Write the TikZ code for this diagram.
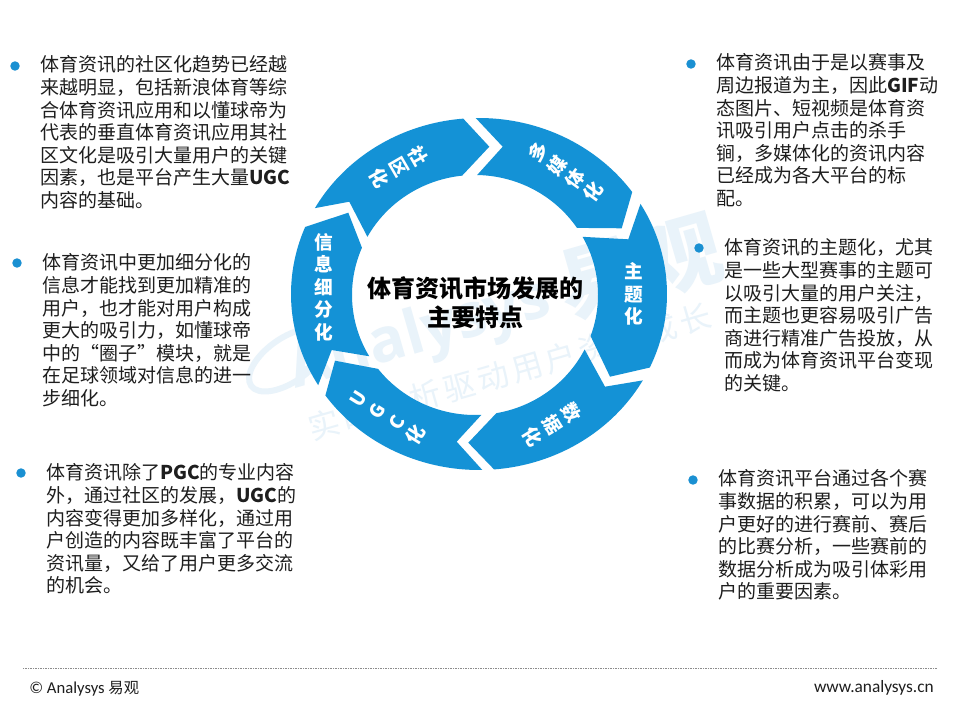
\documentclass[tikz,border=0pt]{standalone}
\usepackage{fontspec}
\setmainfont{Noto Sans CJK SC}
\newfontfamily\footfont{Carlito}
\newfontfamily\wmfont{Noto Sans CJK SC}
\newfontfamily\wmspaced[LetterSpace=12]{Noto Sans CJK SC}
\newfontfamily\wmlatin{Open Sans}
\definecolor{ringblue}{HTML}{1492D6}
\definecolor{bulletblue}{HTML}{1A90D2}
\definecolor{wmblue}{HTML}{E9F3FA}
\definecolor{bodyink}{HTML}{1E1E1E}
\newcommand{\ringseg}[6]{%
  \fill[ringblue] #1 -- plot[domain=#2:#3,samples=40] ({479+188*cos(\x)},{294-176*sin(\x)})
    -- #4 -- plot[domain=#5:#6,samples=40] ({475+123*cos(\x)},{295-120*sin(\x)}) -- cycle;}
\tikzset{
  para/.style={anchor=north west,inner sep=0pt,align=left,text=bodyink,font=\fontsize{14.25}{16.95}\selectfont},
  bulletdot/.style={circle,fill=bulletblue,inner sep=0pt,minimum size=7.1pt},
  ringtext/.style={text=white,inner sep=0pt,align=center,font=\fontsize{14}{16.9}\selectfont\bfseries},
  titletext/.style={text=black,inner sep=0pt,align=center,font=\fontsize{18}{21.75}\selectfont\bfseries},
  foottext/.style={inner sep=0pt,text=bodyink,font=\footfont\fontsize{13}{14}\selectfont},
  wmtext/.style={text=wmblue,inner sep=0pt,rotate=16}
}
\begin{document}
\begin{tikzpicture}[x=0.75pt,y=-0.75pt]
\useasboundingbox (0,0) rectangle (960,720);
\fill[white] (0,0) rectangle (960,720);
% watermark
\draw[wmblue,line width=4.5pt,rotate around={35:(288,360)}] (288,360) ellipse [x radius=45,y radius=22];
\node[wmtext,font=\wmlatin\bfseries\fontsize{46}{46}\selectfont] (wmA) at (420,336) {Analysys};
\node[wmtext,font=\wmfont\bfseries\fontsize{62}{62}\selectfont] (wmB) at (640,268) {易观};
\node[wmtext,font=\wmspaced\fontsize{23.5}{26}\selectfont] (wmC) at (510,372) {实时分析驱动用户资产成长};
% ring
\ringseg{(349.3,201.7)}{150.8}{94.8}{(489.3,146.7)}{96}{151}
\ringseg{(502.7,146.7)}{91}{35.4}{(621.7,228.3)}{34}{89}
\ringseg{(628.3,239.3)}{30.8}{-24.7}{(610,376.7)}{-20}{29}
\ringseg{(605,386.7)}{-29.4}{-85.4}{(468.3,442.7)}{-80}{-27}
\ringseg{(456.7,441.7)}{-89}{-144.8}{(335,360.7)}{-142}{-87}
\ringseg{(331.7,350)}{-148.8}{-202.4}{(348.3,212.7)}{-203.2}{-149.3}
% ring labels
\node[ringtext,rotate=-60] (lSocial) at (399,167) {社\\区\\化};
\node[ringtext,rotate=54] (lMedia) at (566,172) {多\\媒\\体\\化};
\node[ringtext] (lTheme) at (634,294) {主\\题\\化};
\node[ringtext,rotate=-58] (lData) at (552,425) {数\\据\\化};
\node[ringtext,rotate=58] (lUgc) at (388,417) {U\\G\\C\\化};
\node[ringtext] (lInfo) at (324,287) {信\\息\\细\\分\\化};
\node[titletext] (title) at (475.5,302.5) {体育资讯市场发展的\\主要特点};
% bullets
\node[bulletdot] (b1) at (15,66) {};
\node[bulletdot] (b2) at (17,263) {};
\node[bulletdot] (b3) at (21,473) {};
\node[bulletdot] (b4) at (691,64) {};
\node[bulletdot] (b5) at (699,248) {};
\node[bulletdot] (b6) at (693,480) {};
% paragraphs
\node[para] (p1) at (40,55.5) {体育资讯的社区化趋势已经越\\来越明显，包括新浪体育等综\\合体育资讯应用和以懂球帝为\\代表的垂直体育资讯应用其社\\区文化是吸引大量用户的关键\\因素，也是平台产生大量{\bfseries UGC}\\内容的基础。};
\node[para] (p2) at (42,253.5) {体育资讯中更加细分化的\\信息才能找到更加精准的\\用户，也才能对用户构成\\更大的吸引力，如懂球帝\\中的“圈子”模块，就是\\在足球领域对信息的进一\\步细化。};
\node[para] (p3) at (46,463.5) {体育资讯除了{\bfseries PGC}的专业内容\\外，通过社区的发展，{\bfseries UGC}的\\内容变得更加多样化，通过用\\户创造的内容既丰富了平台的\\资讯量，又给了用户更多交流\\的机会。};
\node[para] (p4) at (716,53.5) {体育资讯由于是以赛事及\\周边报道为主，因此{\bfseries GIF}动\\态图片、短视频是体育资\\讯吸引用户点击的杀手\\锏，多媒体化的资讯内容\\已经成为各大平台的标\\配。};
\node[para] (p5) at (724,238.5) {体育资讯的主题化，尤其\\是一些大型赛事的主题可\\以吸引大量的用户关注，\\而主题也更容易吸引广告\\商进行精准广告投放，从\\而成为体育资讯平台变现\\的关键。};
\node[para] (p6) at (718,469.5) {体育资讯平台通过各个赛\\事数据的积累，可以为用\\户更好的进行赛前、赛后\\的比赛分析，一些赛前的\\数据分析成为吸引体彩用\\户的重要因素。};
% footer
\coordinate (ruleL) at (23,668);
\coordinate (ruleR) at (938,668);
\draw[color=black!45,line width=0.5pt,dash pattern=on 0.75pt off 0.5pt] (ruleL) -- (ruleR);
\node[foottext,anchor=west,font=\footfont\fontsize{12.5}{14}\selectfont] (copy) at (29,689) {© Analysys {\wmfont\fontsize{11.5}{14}\selectfont 易观}};
\node[foottext,anchor=east] (site) at (934,688) {www.analysys.cn};
\end{tikzpicture}
\end{document}
